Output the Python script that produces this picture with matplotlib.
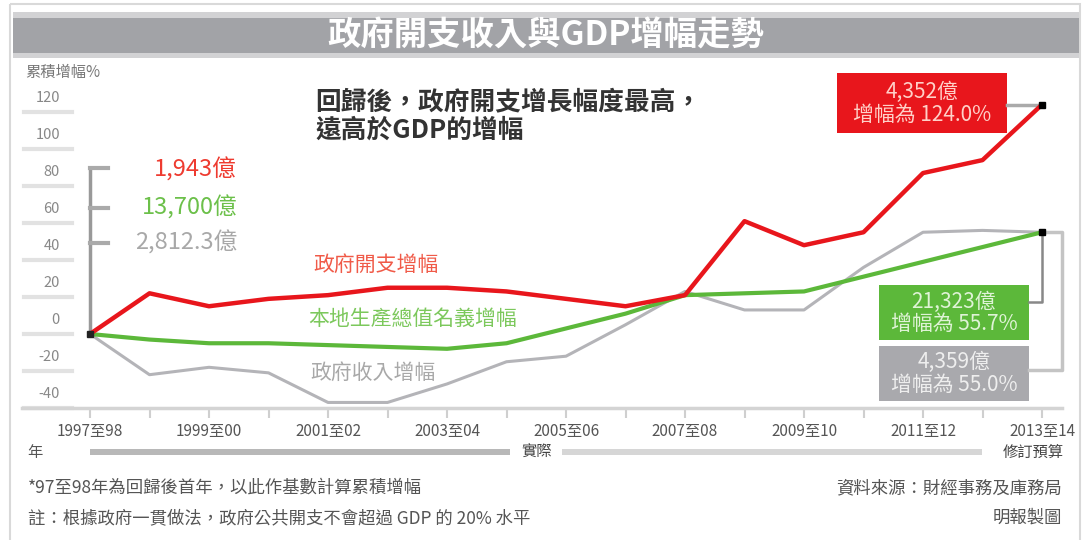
import matplotlib
matplotlib.use("Agg")
import matplotlib.pyplot as plt
from matplotlib.patches import Rectangle
from matplotlib import transforms

plt.rcParams["font.family"] = ["Noto Sans CJK TC", "DejaVu Sans"]

# data (cumulative growth %, base year 1997/98)
years = ["1997至98", "1998至99", "1999至00", "2000至01", "2001至02", "2002至03",
         "2003至04", "2004至05", "2005至06", "2006至07", "2007至08", "2008至09",
         "2009至10", "2010至11", "2011至12", "2012至13", "2013至14"]
expenditure = [0, 22, 15, 19, 21, 25, 25, 23, 19, 15, 21, 61, 48, 55, 87, 94, 124]
gdp = [0, -3, -5, -5, -6, -7, -8, -5, 3, 11, 21, 22, 23, 31, 39, 47, 55]
revenue = [0, -22, -18, -21, -37, -37, -27, -15, -12, 5, 23, 13, 13, 36, 55, 56, 55]
y_ticks = [120, 100, 80, 60, 40, 20, 0, -20, -40]

start_labels = ["1,943億", "13,700億", "2,812.3億"]
end_exp = ["4,352億", "增幅為 124.0%"]
end_gdp = ["21,323億", "增幅為 55.7%"]
end_rev = ["4,359億", "增幅為 55.0%"]

RED = "#e8161c"
GREEN = "#5cb83a"
GREY = "#b4b4b8"

W, H = 1092, 540
fig = plt.figure(figsize=(W / 100, H / 100), dpi=100)

# background layer in pixel coords
bg = fig.add_axes([0, 0, 1, 1])
bg.set_xlim(0, W)
bg.set_ylim(H, 0)
bg.axis("off")

bg.add_patch(Rectangle((10, 4), 1070, 545, fill=False, edgecolor="#d9d9d9", lw=1.5))
bg.add_patch(Rectangle((13, 12), 1066, 46, color="#d2d2d4", lw=0))
bg.add_patch(Rectangle((13, 18), 1066, 35, color="#a2a3a7", lw=0))
bg.text(546, 36, "政府開支收入與GDP增幅走勢", color="white", fontsize=24,
        fontweight="bold", ha="center", va="center")

bg.text(25, 72, "累積增幅%", fontsize=11, color="#777", va="center")

bg.text(315, 102, "回歸後，政府開支增長幅度最高，", fontsize=18.5,
        fontweight="bold", color="#333", va="center")
bg.text(315, 130, "遠高於GDP的增幅", fontsize=18.5,
        fontweight="bold", color="#333", va="center")

# start value labels
for lab, yy, col in zip(start_labels, [170, 208, 243], ["#ee3b30", "#6cc04a", "#a8a8a8"]):
    bg.text(237, yy, lab, fontsize=17, color=col, ha="right", va="center")

# line labels
bg.text(313, 265, "政府開支增幅", fontsize=15, color="#f05a48", va="center")
bg.text(308, 319, "本地生產總值名義增幅", fontsize=15, color="#7cc85c", va="center")
bg.text(310, 373, "政府收入增幅", fontsize=15, color="#a8a8a8", va="center")

# end boxes
bg.add_patch(Rectangle((837, 73), 170, 60, color=RED, lw=0))
bg.text(922, 92, end_exp[0], fontsize=15, color="#ffd0c8", ha="center", va="center")
bg.text(922, 115, end_exp[1], fontsize=15, color="#ffd0c8", ha="center", va="center")
bg.add_patch(Rectangle((879, 285), 150, 55, color=GREEN, lw=0))
bg.text(954, 302, end_gdp[0], fontsize=15, color="#dff3d6", ha="center", va="center")
bg.text(954, 324, end_gdp[1], fontsize=15, color="#dff3d6", ha="center", va="center")
bg.add_patch(Rectangle((879, 346), 150, 55, color="#a9a9ad", lw=0))
bg.text(954, 362, end_rev[0], fontsize=15, color="#eeeeee", ha="center", va="center")
bg.text(954, 385, end_rev[1], fontsize=15, color="#eeeeee", ha="center", va="center")

# period bars under the axis
bg.text(35, 452, "年", fontsize=11, color="#555", ha="center", va="center")
bg.add_patch(Rectangle((90, 449), 420, 6, color="#b8b8b8", lw=0))
bg.text(537, 452, "實際", fontsize=11, color="#444", ha="center", va="center")
bg.add_patch(Rectangle((562, 449), 420, 6, color="#d6d6d6", lw=0))
bg.text(1033, 452, "修訂預算", fontsize=11, color="#444", ha="center", va="center")

# footnotes
bg.text(28, 488, "*97至98年為回歸後首年，以此作基數計算累積增幅", fontsize=12.5, color="#555", va="center")
bg.text(28, 518, "註：根據政府一貫做法，政府公共開支不會超過 GDP 的 20% 水平", fontsize=12.5,
        color="#555", va="center")
bg.text(1062, 488, "資料來源：財經事務及庫務局", fontsize=12.5, color="#555", ha="right", va="center")
bg.text(1062, 518, "明報製圖", fontsize=12.5, color="#555", ha="right", va="center")

# data axes, placed so that 1997/98 sits at x=90px and 0% at y=334px
x0_px, dx_px = 90.0, 59.5
y0_px, dy_px = 334.0, 1.85
ax_l, ax_r, ax_t, ax_b = 22, 1062, 60, 408


def px_x(px):
    return (px - x0_px) / dx_px


def px_y(py):
    return (y0_px - py) / dy_px


ax = fig.add_axes([ax_l / W, 1 - ax_b / H, (ax_r - ax_l) / W, (ax_b - ax_t) / H])
ax.set_facecolor("none")
ax.set_xlim(px_x(ax_l), px_x(ax_r))
ax.set_ylim(px_y(ax_b), px_y(ax_t))
for s in ["top", "right", "left"]:
    ax.spines[s].set_visible(False)
ax.spines["bottom"].set_color("#d4d4d4")
ax.spines["bottom"].set_linewidth(2.5)
ax.set_yticks([])
x = list(range(len(years)))
ax.set_xticks(x)
ax.set_xticklabels([y if i % 2 == 0 else "" for i, y in enumerate(years)])
ax.tick_params(axis="x", length=7, width=1.5, color="#cfcfcf", labelsize=11,
               labelcolor="#555", pad=4)

# y tick labels with short stubs
blend = transforms.blended_transform_factory(ax.transAxes, ax.transData)
fx = lambda px: (px - ax_l) / (ax_r - ax_l)
for v in y_ticks:
    ax.plot([fx(24), fx(72)], [v, v], transform=blend, color="#e2e2e2", lw=3, clip_on=False)
    ax.annotate(str(v), xy=(fx(60), v), xycoords=blend, xytext=(0, 10),
                textcoords="offset points", ha="right", va="center",
                fontsize=10.5, color="#888")

# series
ax.plot(x, revenue, color=GREY, lw=2.2, solid_joinstyle="round", solid_capstyle="round", zorder=3)
ax.plot(x, gdp, color=GREEN, lw=3, solid_joinstyle="round", solid_capstyle="round", zorder=4)
ax.plot(x, expenditure, color=RED, lw=3.2, solid_joinstyle="round", solid_capstyle="round", zorder=5)

# left bracket
ax.plot([x[0], x[0]], [0, px_y(168)], color="#999", lw=2.5, zorder=2, clip_on=False)
for py in [168, 208, 243]:
    ax.plot([x[0], px_x(108)], [px_y(py), px_y(py)], color="#aaa", lw=3, zorder=2)

# connectors to end boxes
ax.plot([px_x(1007), x[-1]], [expenditure[-1]] * 2, color="#aaa", lw=2.5, zorder=2)
ax.plot([x[-1], x[-1], px_x(1029)], [gdp[-1], px_y(302), px_y(302)], color="#888", lw=1.8, zorder=2)
ax.plot([x[-1], px_x(1062), px_x(1062), px_x(1029)],
        [revenue[-1], revenue[-1], px_y(370), px_y(370)], color="#c4c4c4", lw=2.5, zorder=2,
        clip_on=False)
ax.plot([x[-1]], [expenditure[-1]], "s", color="black", ms=4, zorder=6)
ax.plot([x[-1]], [gdp[-1]], "s", color="black", ms=4, zorder=6)
ax.plot([x[0]], [0], "s", color="#222", ms=4, zorder=6)

fig.savefig("out.png", dpi=100)
